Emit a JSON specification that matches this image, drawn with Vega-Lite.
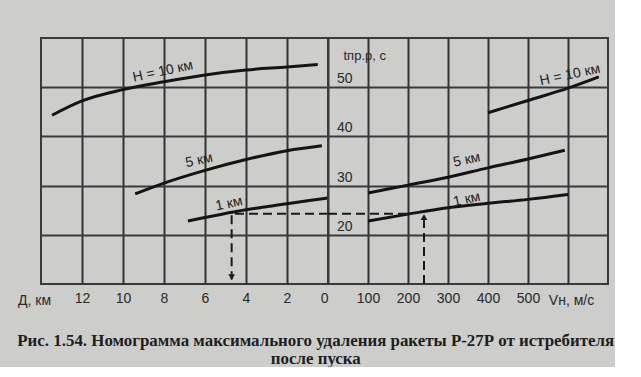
{
  "$schema": "https://vega.github.io/schema/vega-lite/v6.json",
  "background": "#cdcdcb",
  "padding": {"left": 16, "top": 37, "right": 0, "bottom": 0},
  "autosize": {"type": "pad"},
  "bounds": "flush",
  "spacing": 0,
  "config": {
    "font": "Liberation Sans",
    "view": {"stroke": "#3a3a3a", "strokeWidth": 2},
    "axis": {
      "labelFont": "Liberation Sans",
      "labelFontSize": 14,
      "labelColor": "#2a2a2a",
      "titleFont": "Liberation Sans",
      "titleFontSize": 14,
      "titleFontWeight": "normal",
      "titleColor": "#2a2a2a",
      "gridColor": "#3a3a3a",
      "gridWidth": 2,
      "gridOpacity": 1,
      "domain": false,
      "ticks": false,
      "tickSize": 0
    }
  },
  "title": {
    "text": ["Рис. 1.54. Номограмма максимального удаления ракеты Р-27Р от истребителя", "после пуска"],
    "orient": "bottom",
    "anchor": "middle",
    "font": "Liberation Serif",
    "fontSize": 16.9,
    "fontWeight": "bold",
    "color": "#1e1e1e",
    "lineHeight": 17.5,
    "offset": 25,
    "dx": 3
  },
  "datasets": {
    "curvesL": [
      {"H": "10 км", "D": 13.46, "t": 44.3},
      {"H": "10 км", "D": 12, "t": 47.2},
      {"H": "10 км", "D": 10, "t": 49.5},
      {"H": "10 км", "D": 8, "t": 51.1},
      {"H": "10 км", "D": 6, "t": 52.5},
      {"H": "10 км", "D": 4, "t": 53.5},
      {"H": "10 км", "D": 2, "t": 54.1},
      {"H": "10 км", "D": 0.5, "t": 54.6},
      {"H": "5 км", "D": 9.41, "t": 28.3},
      {"H": "5 км", "D": 8, "t": 30.5},
      {"H": "5 км", "D": 6, "t": 33.1},
      {"H": "5 км", "D": 4, "t": 35.3},
      {"H": "5 км", "D": 2, "t": 37.1},
      {"H": "5 км", "D": 0.3, "t": 38.1},
      {"H": "1 км", "D": 6.83, "t": 22.8},
      {"H": "1 км", "D": 4, "t": 25.1},
      {"H": "1 км", "D": 2, "t": 26.3},
      {"H": "1 км", "D": 0, "t": 27.5}
    ],
    "curvesR": [
      {"H": "10 км", "V": 400, "t": 44.8},
      {"H": "10 км", "V": 500, "t": 47.3},
      {"H": "10 км", "V": 600, "t": 49.8},
      {"H": "10 км", "V": 677, "t": 52.1},
      {"H": "5 км", "V": 100, "t": 28.5},
      {"H": "5 км", "V": 200, "t": 30.1},
      {"H": "5 км", "V": 300, "t": 31.7},
      {"H": "5 км", "V": 400, "t": 33.6},
      {"H": "5 км", "V": 500, "t": 35.4},
      {"H": "5 км", "V": 592, "t": 37.2},
      {"H": "1 км", "V": 100, "t": 22.8},
      {"H": "1 км", "V": 200, "t": 24.2},
      {"H": "1 км", "V": 300, "t": 25.5},
      {"H": "1 км", "V": 400, "t": 26.4},
      {"H": "1 км", "V": 500, "t": 27.2},
      {"H": "1 км", "V": 600, "t": 28.2}
    ],
    "labelsL": [
      {"text": "H = 10 км", "D": 8.05, "t": 53.2},
      {"text": "5 км", "D": 6.29, "t": 35.1},
      {"text": "1 км", "D": 4.83, "t": 26.3}
    ],
    "labelsR": [
      {"text": "H = 10 км", "V": 605, "t": 52.5},
      {"text": "5 км", "V": 347, "t": 35.2},
      {"text": "1 км", "V": 347, "t": 27.2}
    ],
    "dashL": [
      {"seg": "a", "o": 1, "D": 0, "t": 24.3},
      {"seg": "a", "o": 2, "D": 4.7, "t": 24.3},
      {"seg": "a", "o": 3, "D": 4.7, "t": 10.9}
    ],
    "dashR": [
      {"seg": "h", "o": 1, "V": 0, "t": 24.3},
      {"seg": "h", "o": 2, "V": 205, "t": 24.3},
      {"seg": "v", "o": 1, "V": 240, "t": 10},
      {"seg": "v", "o": 2, "V": 240, "t": 23.2}
    ],
    "arrowL": [{"D": 4.7, "t": 11.4}],
    "arrowR": [{"V": 240, "t": 23.6}]
  },
  "hconcat": [
    {
      "width": 287,
      "height": 246,
      "layer": [
        {
          "data": {"name": "curvesL"},
          "mark": {"type": "line", "color": "#141414", "strokeWidth": 3, "interpolate": "monotone"},
          "encoding": {
            "x": {
              "field": "D",
              "type": "quantitative",
              "scale": {"domain": [0, 14], "reverse": true, "nice": false, "zero": false},
              "axis": {
                "values": [12, 10, 8, 6, 4, 2, 0],
                "grid": true,
                "gridWidth": 2,
                "gridColor": "#333333",
                "labelPadding": 7,
                "labelBaseline": "top",
                "title": "Д, км",
                "titleX": -7,
                "titleY": 20,
                "titleAlign": "center",
                "titleBaseline": "alphabetic",
                "titleAnchor": null
              }
            },
            "y": {
              "field": "t",
              "type": "quantitative",
              "scale": {"domain": [10, 60], "nice": false, "zero": false},
              "axis": {"values": [20, 30, 40, 50], "grid": true, "labels": false, "title": null}
            },
            "detail": {"field": "H"}
          }
        },
        {
          "data": {"name": "dashL"},
          "mark": {"type": "line", "color": "#1a1a1a", "strokeWidth": 2, "strokeDash": [9, 5]},
          "encoding": {
            "x": {"field": "D", "type": "quantitative"},
            "y": {"field": "t", "type": "quantitative"},
            "order": {"field": "o"},
            "detail": {"field": "seg"}
          }
        },
        {
          "data": {"name": "arrowL"},
          "mark": {"type": "point", "shape": "triangle-down", "filled": true, "color": "#1a1a1a", "size": 45, "opacity": 1},
          "encoding": {
            "x": {"field": "D", "type": "quantitative"},
            "y": {"field": "t", "type": "quantitative"}
          }
        },
        {
          "data": {"name": "labelsL"},
          "mark": {"type": "text", "font": "Liberation Sans", "fontSize": 14, "color": "#222", "angle": -12},
          "encoding": {
            "x": {"field": "D", "type": "quantitative"},
            "y": {"field": "t", "type": "quantitative"},
            "text": {"field": "text"}
          }
        }
      ]
    },
    {
      "width": 280,
      "height": 246,
      "layer": [
        {
          "data": {"name": "curvesR"},
          "mark": {"type": "line", "color": "#141414", "strokeWidth": 3, "interpolate": "monotone"},
          "encoding": {
            "x": {
              "field": "V",
              "type": "quantitative",
              "scale": {"domain": [0, 700], "nice": false, "zero": false},
              "axis": {
                "values": [100, 200, 300, 400, 500, 600],
                "labelExpr": "datum.value == 600 ? '' : datum.label",
                "grid": true,
                "gridWidth": 2,
                "gridColor": "#333333",
                "labelPadding": 7,
                "labelBaseline": "top",
                "title": "Vн, м/с",
                "titleX": 243,
                "titleY": 20,
                "titleAlign": "center",
                "titleBaseline": "alphabetic",
                "titleAnchor": null
              }
            },
            "y": {
              "field": "t",
              "type": "quantitative",
              "scale": {"domain": [10, 60], "nice": false, "zero": false},
              "axis": {
                "values": [20, 30, 40, 50],
                "grid": true,
                "offset": -40,
                "labelPadding": 16,
                "labelBaseline": "alphabetic",
                "labelOffset": -4.5,
                "title": "tпр.р, с",
                "titleAngle": 0,
                "titleAlign": "left",
                "titleBaseline": "middle",
                "titleX": -25,
                "titleY": 17,
                "titleFontSize": 13,
                "titleAnchor": null
              }
            },
            "detail": {"field": "H"}
          }
        },
        {
          "data": {"name": "dashR"},
          "mark": {"type": "line", "color": "#1a1a1a", "strokeWidth": 2, "strokeDash": [9, 5]},
          "encoding": {
            "x": {"field": "V", "type": "quantitative"},
            "y": {"field": "t", "type": "quantitative"},
            "order": {"field": "o"},
            "detail": {"field": "seg"}
          }
        },
        {
          "data": {"name": "arrowR"},
          "mark": {"type": "point", "shape": "triangle-up", "filled": true, "color": "#1a1a1a", "size": 45, "opacity": 1},
          "encoding": {
            "x": {"field": "V", "type": "quantitative"},
            "y": {"field": "t", "type": "quantitative"}
          }
        },
        {
          "data": {"name": "labelsR"},
          "mark": {"type": "text", "font": "Liberation Sans", "fontSize": 14, "color": "#222", "angle": -12},
          "encoding": {
            "x": {"field": "V", "type": "quantitative"},
            "y": {"field": "t", "type": "quantitative"},
            "text": {"field": "text"}
          }
        }
      ]
    }
  ]
}
